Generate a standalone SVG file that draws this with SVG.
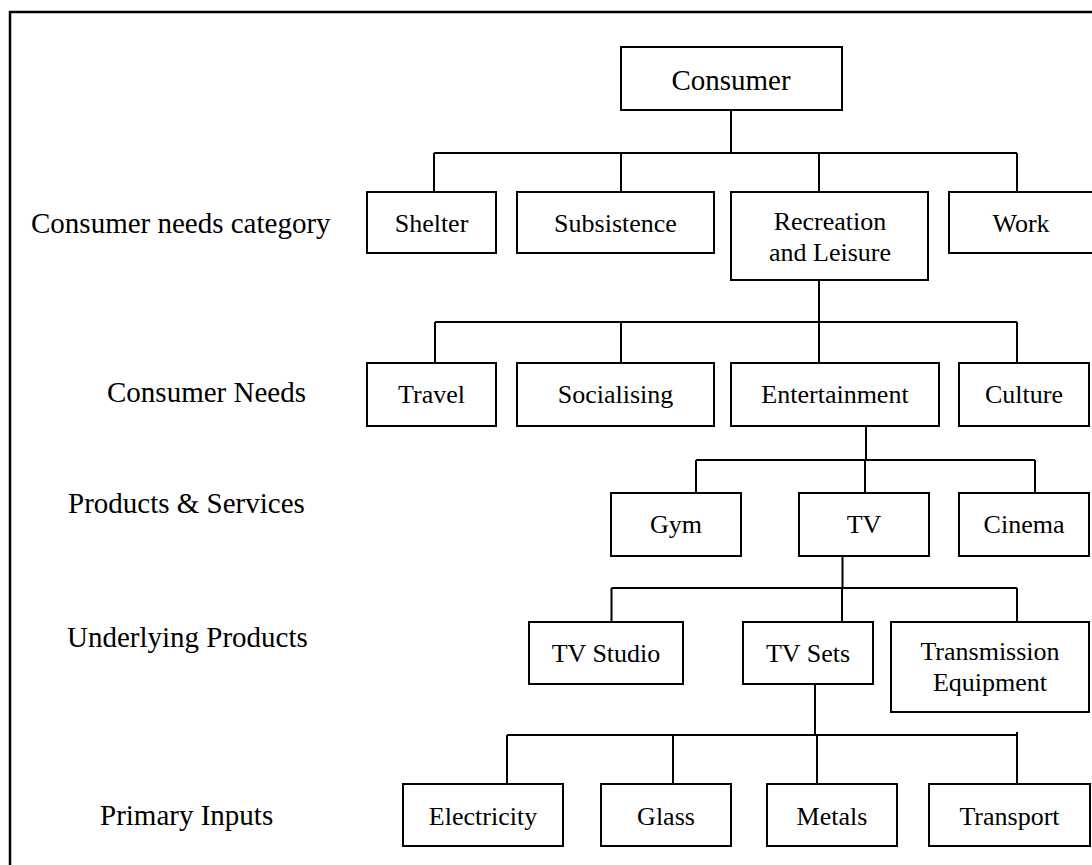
<svg xmlns="http://www.w3.org/2000/svg" width="1092" height="865" viewBox="0 0 1092 865">
<style>
.box{fill:#fff;stroke:#000;stroke-width:2}
.t{font-family:"Liberation Serif","Times New Roman",serif;font-size:26px;fill:#000;text-anchor:middle}
.lbl{font-family:"Liberation Serif","Times New Roman",serif;font-size:29px;fill:#000}
.c{fill:none;stroke:#000;stroke-width:2}
</style>
<rect x="0" y="0" width="1092" height="865" fill="#fff"/>
<rect id="frame" x="10" y="12" width="1100" height="870" fill="none" stroke="#000" stroke-width="2.5"/>
<g id="labels">
<text class="lbl" x="31" y="233">Consumer needs category</text>
<text class="lbl" x="107" y="402">Consumer Needs</text>
<text class="lbl" x="68" y="513">Products &amp; Services</text>
<text class="lbl" x="67" y="647">Underlying Products</text>
<text class="lbl" x="100" y="825">Primary Inputs</text>
</g>
<g id="connectors">
<path class="c" d="M731 110V153M434 153H1017M434 153V192M621 153V192M819 153V192M1017 153V192"/>
<path class="c" d="M819 280V322M435 322H1017M435 322V363M621 322V363M819 322V363M1017 322V363"/>
<path class="c" d="M866 426V460M696 460H1035M696 460V493M865 460V493M1035 460V493"/>
<path class="c" d="M842.5 556V588M611.5 588H1017M611.5 588V622M842 588V622M1017 588V622"/>
<path class="c" d="M815 684V735M507 735H1017M507 735V784M673 735V784M817 735V784M1017 732V784"/>
</g>
<g id="n-consumer"><rect class="box" x="621" y="47" width="221" height="63"/><text class="t" x="731" y="90" style="font-size:29px">Consumer</text></g>
<g id="n-shelter"><rect class="box" x="367" y="192" width="129" height="61"/><text class="t" x="431.5" y="232">Shelter</text></g>
<g id="n-subsistence"><rect class="box" x="517" y="192" width="197" height="61"/><text class="t" x="615.5" y="232">Subsistence</text></g>
<g id="n-recreation"><rect class="box" x="731" y="192" width="197" height="88"/><text class="t" x="830" y="230">Recreation</text><text class="t" x="830" y="261">and Leisure</text></g>
<g id="n-work"><rect class="box" x="949" y="192" width="144" height="61"/><text class="t" x="1021" y="232">Work</text></g>
<g id="n-travel"><rect class="box" x="367" y="363" width="129" height="63"/><text class="t" x="431.5" y="403">Travel</text></g>
<g id="n-socialising"><rect class="box" x="517" y="363" width="197" height="63"/><text class="t" x="615.5" y="403">Socialising</text></g>
<g id="n-entertainment"><rect class="box" x="731" y="363" width="208" height="63"/><text class="t" x="835" y="403">Entertainment</text></g>
<g id="n-culture"><rect class="box" x="959" y="363" width="130" height="63"/><text class="t" x="1024" y="403">Culture</text></g>
<g id="n-gym"><rect class="box" x="611" y="493" width="130" height="63"/><text class="t" x="676" y="533">Gym</text></g>
<g id="n-tv"><rect class="box" x="799" y="493" width="130" height="63"/><text class="t" x="864" y="533">TV</text></g>
<g id="n-cinema"><rect class="box" x="959" y="493" width="130" height="63"/><text class="t" x="1024" y="533">Cinema</text></g>
<g id="n-tvstudio"><rect class="box" x="529" y="622" width="154" height="62"/><text class="t" x="606" y="662">TV Studio</text></g>
<g id="n-tvsets"><rect class="box" x="743" y="622" width="130" height="62"/><text class="t" x="808" y="662">TV Sets</text></g>
<g id="n-transmission"><rect class="box" x="891" y="622" width="198" height="90"/><text class="t" x="990" y="660">Transmission</text><text class="t" x="990" y="691">Equipment</text></g>
<g id="n-electricity"><rect class="box" x="403" y="784" width="160" height="62"/><text class="t" x="483" y="825">Electricity</text></g>
<g id="n-glass"><rect class="box" x="601" y="784" width="130" height="62"/><text class="t" x="666" y="825">Glass</text></g>
<g id="n-metals"><rect class="box" x="767" y="784" width="130" height="62"/><text class="t" x="832" y="825">Metals</text></g>
<g id="n-transport"><rect class="box" x="929" y="784" width="161" height="62"/><text class="t" x="1009.5" y="825">Transport</text></g>
</svg>
